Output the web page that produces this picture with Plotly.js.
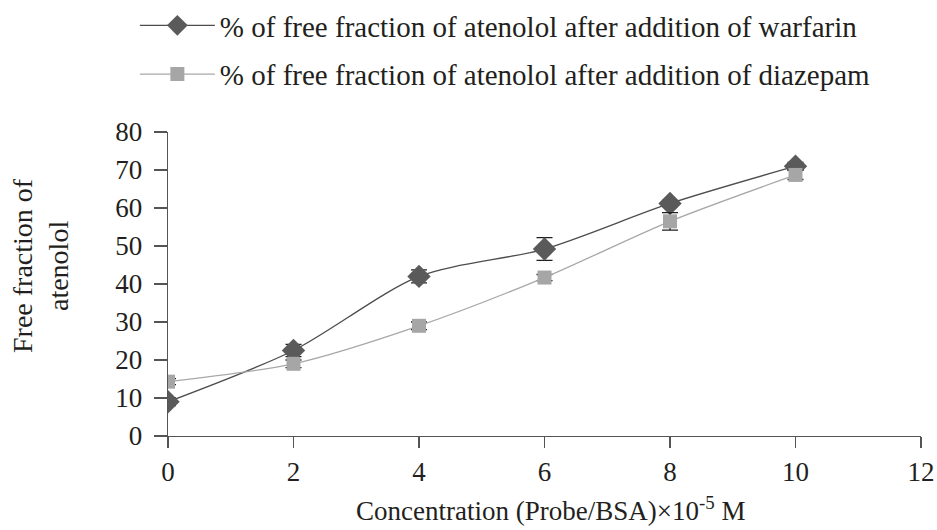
<!DOCTYPE html>
<html><head><meta charset="utf-8">
<script src="https://cdn.plot.ly/plotly-3.0.1.min.js"></script>
<style>html,body{margin:0;padding:0;background:#fff}#chart{width:937px;height:530px}</style>
</head><body><div id="chart"></div>
<script>
const concentration = [0, 2, 4, 6, 8, 10];
const warfarinValues = [9, 22.5, 42, 49.2, 61.2, 71];
const warfarinErrors = [1, 1.6, 1.7, 3, 0.8, 1];
const diazepamValues = [14.3, 19, 29, 41.7, 56.5, 68.7];
const diazepamErrors = [0.8, 1, 1, 0.8, 2.3, 1.2];
const seriesNames = ["% of free fraction of atenolol after addition of warfarin",
                     "% of free fraction of atenolol after addition of diazepam"];
const xTicks = [0, 2, 4, 6, 8, 10, 12];
const yTicks = [0, 10, 20, 30, 40, 50, 60, 70, 80];
const xTitle = "Concentration (Probe/BSA)×10<sup>-5</sup> M";
const yTitle = "Free fraction of<br>atenolol";

const fam = "Liberation Serif, DejaVu Serif, serif";
const ink = "#231f20";

const traces = [
  {x: concentration, y: warfarinValues, name: seriesNames[0], legendgroup: "w", type: "scatter", mode: "lines+markers",
   line: {color: "#4d4d4d", width: 1.3, shape: "spline", smoothing: 0.8},
   marker: {symbol: "diamond", size: 18, color: "#5a5a5a"},
   error_y: {type: "data", array: warfarinErrors, visible: true, color: ink, thickness: 1.3, width: 8}},
  {x: concentration, y: diazepamValues, name: seriesNames[1], legendgroup: "d", type: "scatter", mode: "lines+markers",
   line: {color: "#a8a8a8", width: 1.3, shape: "spline", smoothing: 0.8},
   marker: {symbol: "square", size: 14, color: "#a6a6a6"},
   error_y: {type: "data", array: diazepamErrors, visible: true, color: ink, thickness: 1.3, width: 8}}
];

const layout = {
  width: 937, height: 530,
  margin: {l: 168, r: 15.5, t: 132, b: 94, autoexpand: false},
  paper_bgcolor: "#fff", plot_bgcolor: "#fff",
  font: {family: fam, size: 27, color: ink},
  showlegend: true,
  legend: {x: -0.044, xanchor: "left", yref: "container", y: 1.003, yanchor: "top", bgcolor: "rgba(0,0,0,0)",
           font: {family: fam, size: 29, color: ink}, tracegroupgap: 8, itemwidth: 75},
  xaxis: {range: [0, 12], tickvals: xTicks, ticktext: xTicks.map(String),
          showgrid: false, zeroline: false, showline: true, linecolor: "#555", linewidth: 1.3,
          ticks: "outside", ticklen: 11, tickcolor: "#555", tickwidth: 1.3,
          tickfont: {family: fam, size: 27, color: ink}},
  yaxis: {range: [0, 80], tickvals: yTicks, ticktext: yTicks.map(String),
          showgrid: false, zeroline: false, showline: true, linecolor: "#555", linewidth: 1.3,
          ticks: "outside", ticklen: 13, tickcolor: "#555", tickwidth: 1.3,
          ticklabelstandoff: 6,
          tickfont: {family: fam, size: 27, color: ink}},
  annotations: [
    {text: xTitle, xref: "paper", yref: "paper", x: 0.508, y: -0.302, xanchor: "center", yanchor: "bottom",
     showarrow: false, font: {family: fam, size: 27, color: ink}},
    {text: yTitle, xref: "paper", yref: "paper", x: -0.17, y: 0.5625, xanchor: "center", yanchor: "middle",
     textangle: -90, showarrow: false, font: {family: fam, size: 28, color: ink}}
  ]
};

Plotly.newPlot("chart", traces, layout, {displayModeBar: false, staticPlot: true});
</script></body></html>
